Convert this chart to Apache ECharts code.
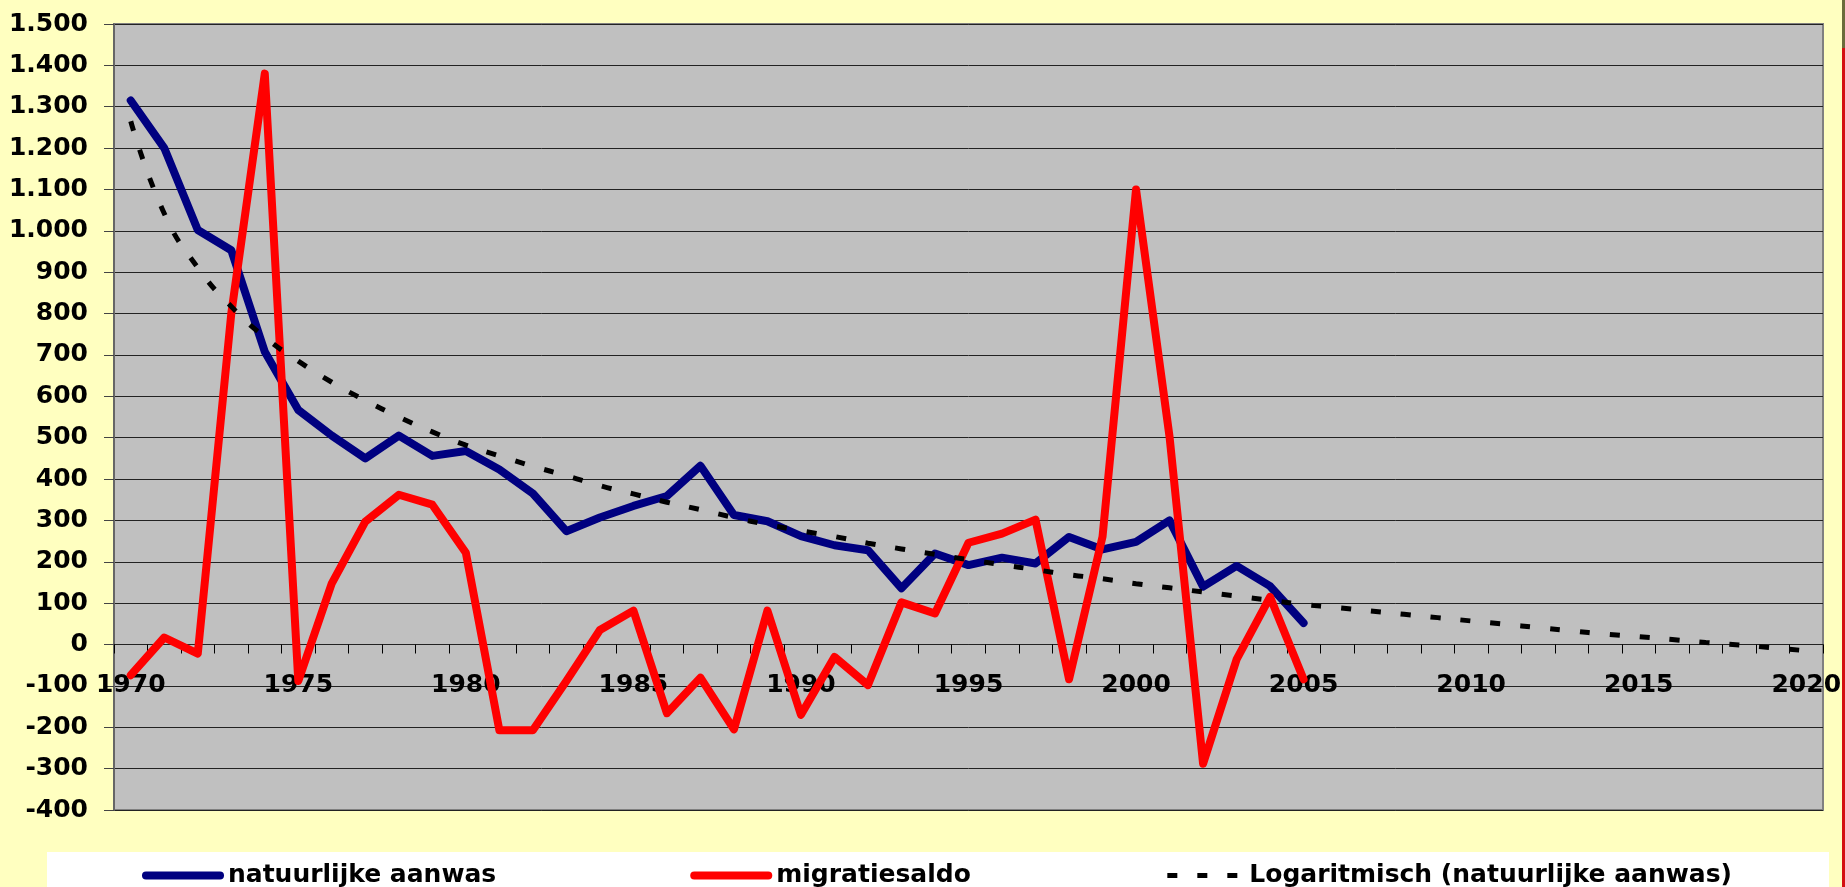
<!DOCTYPE html>
<html>
<head>
    <meta charset="utf-8">
    <script src="https://cdn.jsdelivr.net/npm/echarts@6/dist/echarts.min.js"></script>
    <style>
        html, body { margin: 0; padding: 0; background: #FFFFC0; }
    </style>
</head>
<body>
    <div id="main" style="width:1845px; height:887px"></div>
    <script type="text/javascript">
        // years on the category axis
        var years = [];
        for (var y = 1970; y <= 2020; y++) years.push(String(y));

        // natuurlijke aanwas 1970-2005
        var natuurlijk = [1315, 1200, 1002, 953, 708, 567, 505, 450, 505, 456,
                          468, 423, 365, 274, 307, 335, 359, 432, 313, 298,
                          262, 240, 228, 136, 220, 192, 210, 196, 260, 230,
                          248, 300, 140, 190, 141, 52];

        // migratiesaldo 1970-2005
        var migratie = [-74, 17, -22, 800, 1380, -88, 148, 297, 362, 338,
                        222, -207, -207, -88, 35, 82, -166, -80, -205, 82,
                        -170, -30, -98, 102, 75, 246, 268, 302, -84, 261,
                        1100, 502, -288, -36, 115, -84];

        // logarithmic trend line 1970-2020
        var trend = [1265, 1042, 911, 817, 743, 685, 634, 590, 550, 514,
                     482, 456, 431, 408, 384, 364, 344, 326, 307, 290,
                     275, 261, 245, 231, 218, 205, 193, 181, 169, 159,
                     147, 137, 127, 117, 107, 97, 89, 81, 73, 65,
                     57, 49, 41, 33, 25, 19, 12, 5, -1, -8, -15];

        var font = 'DejaVu Sans';

        var myChart = echarts.init(document.getElementById('main'));
        var option = {
            animation: false,
            backgroundColor: '#FFFFC0',
            graphic: [{
                type: 'rect',
                shape: {x: 47, y: 852, width: 1782, height: 40},
                style: {fill: '#ffffff'},
                z: -1
            }, {
                type: 'rect',
                shape: {x: 1842, y: 48, width: 3, height: 839},
                style: {fill: '#D41010'},
                z: -1
            }, {
                type: 'rect',
                shape: {x: 1842, y: 0, width: 3, height: 48},
                style: {fill: '#6B6B3A'},
                z: -1
            }],
            legend: {
                left: 137,
                top: 858,
                itemGap: 194,
                itemWidth: 74,
                itemHeight: 14,
                itemStyle: {opacity: 0},
                textStyle: {fontFamily: font, fontWeight: 'bold', fontSize: 25, color: '#000', padding: [0, 0, 0, 3]},
                data: [
                    {name: 'natuurlijke aanwas', lineStyle: {width: 8, cap: 'round'}},
                    {name: 'migratiesaldo', lineStyle: {width: 8, cap: 'round'}},
                    {name: 'Logaritmisch (natuurlijke aanwas)', lineStyle: {width: 5}}
                ]
            },
            grid: {
                left: 114,
                right: 22,
                top: 24,
                bottom: 77,
                show: true,
                backgroundColor: '#C0C0C0',
                borderColor: '#808080',
                borderWidth: 2
            },
            xAxis: {
                type: 'category',
                data: years,
                boundaryGap: true,
                position: 'bottom',
                // the axis sits on the zero line, 165.5px above the grid bottom
                offset: -165.5,
                axisLine: {onZero: false, lineStyle: {color: '#222', width: 1}},
                axisTick: {show: true, interval: 0, length: 9, lineStyle: {color: '#000'}},
                axisLabel: {
                    interval: 4,
                    margin: 28,
                    fontFamily: font,
                    fontWeight: 'bold',
                    fontSize: 25,
                    color: '#000'
                },
                splitLine: {show: false}
            },
            yAxis: {
                type: 'value',
                min: -400,
                max: 1500,
                interval: 100,
                axisLine: {show: true, lineStyle: {color: '#666', width: 2}},
                axisTick: {show: true, length: 10, lineStyle: {color: '#444'}},
                axisLabel: {
                    margin: 26,
                    fontFamily: font,
                    fontWeight: 'bold',
                    fontSize: 25,
                    color: '#000',
                    formatter: function (v) {
                        return String(v).replace(/\B(?=(\d{3})+(?!\d))/g, '.');
                    }
                },
                splitLine: {show: true, lineStyle: {color: '#222', width: 1}}
            },
            series: [
                {
                    name: 'natuurlijke aanwas',
                    type: 'line',
                    symbol: 'none',
                    data: natuurlijk,
                    itemStyle: {color: '#000080'},
                    lineStyle: {color: '#000080', width: 8, cap: 'round', join: 'round'}
                },
                {
                    name: 'migratiesaldo',
                    type: 'line',
                    symbol: 'none',
                    data: migratie,
                    itemStyle: {color: '#FF0000'},
                    lineStyle: {color: '#FF0000', width: 8, cap: 'round', join: 'round'}
                },
                {
                    name: 'Logaritmisch (natuurlijke aanwas)',
                    type: 'line',
                    symbol: 'none',
                    smooth: true,
                    data: trend,
                    itemStyle: {color: '#000'},
                    lineStyle: {color: '#000', width: 5, type: [10, 20]}
                }
            ]
        };
        myChart.setOption(option);
    </script>
</body>
</html>
